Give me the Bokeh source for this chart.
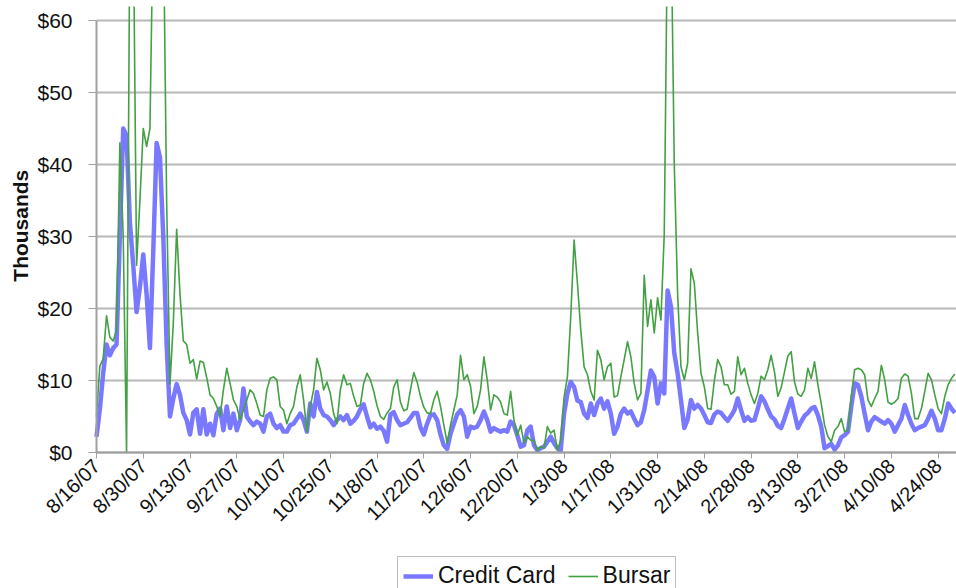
import math
from bokeh.plotting import figure
from bokeh.models import FixedTicker, Range1d, Legend, LegendItem, ColumnDataSource, Label
from bokeh.embed import file_html
from bokeh.resources import INLINE

# Daily values, thousands of dollars, starting 8/16/07
credit_card = [
    2.2, 6, 11, 15, 13.5, 14.5, 15, 30, 45, 44,
    32, 26, 19.5, 23, 27.5, 22, 14.5, 28, 43, 41,
    30, 15, 5, 7.5, 9.5, 8, 5.5, 4.5, 2.5, 5.5,
    6, 2.6, 6, 2.5, 4.0, 2.4, 5.4, 6.1, 3.1, 6.4,
    3.4, 5.4, 3.1, 4.5, 8.9, 5.0, 4.3, 3.8, 4.3, 4.0,
    2.9, 5.0, 5.4, 4.0, 3.4, 3.8, 2.9, 2.9, 3.8, 4.0,
    4.7, 5.4, 4.5, 2.9, 6.8, 5.0, 8.4, 6.1, 5.2, 5.0,
    4.5, 3.8, 4.5, 5.0, 4.5, 5.2, 4.0, 4.4, 5.0, 6.0,
    6.7, 5.0, 3.5, 4.0, 3.3, 3.6, 3.0, 1.5, 5.3, 5.6,
    4.5, 3.8, 4.0, 4.2, 4.8, 5.5, 5.5, 3.5, 2.5, 4.0,
    5.2, 5.3, 4.5, 2.5, 1.0, 0.5, 2.6, 4.0, 5.3, 5.9,
    5.0, 2.2, 3.6, 3.4, 3.6, 4.5, 5.7, 4.5, 2.9, 3.4,
    3.1, 2.9, 3.1, 2.9, 4.3, 3.8, 2.4, 0.8, 1.0, 3.1,
    3.6, 1.0, 0.3, 0.6, 0.8, 1.5, 2.2, 1.3, 0.6, 0.3,
    5.4, 8.2, 9.8, 9.1, 7.2, 7.0, 5.4, 4.8, 6.8, 5.2,
    6.8, 7.5, 6.1, 7.1, 5.4, 2.6, 3.6, 5.4, 6.1, 5.4,
    5.7, 4.7, 3.8, 4.2, 5.9, 8.6, 11.4, 10.5, 6.8, 9.6,
    8.2, 22.5, 20.3, 13.8, 11.0, 7.3, 3.4, 4.6, 7.3, 6.1,
    6.6, 6.1, 5.2, 4.2, 4.1, 5.3, 5.7, 5.5, 4.9, 4.4,
    5.1, 5.9, 7.5, 5.9, 4.4, 4.9, 4.4, 4.5, 6.1, 7.8,
    7.1, 6.0, 5.0, 4.6, 3.7, 3.4, 4.7, 6.1, 7.5, 5.4,
    3.4, 4.3, 5.1, 5.5, 6.1, 6.3, 5.2, 3.6, 0.6, 0.9,
    1.2, 0.4, 1.0, 2.1, 2.4, 2.9, 6.4, 9.6, 9.4, 7.8,
    5.4, 3.1, 4.3, 4.9, 4.6, 4.3, 4.0, 4.5, 4.0, 2.9,
    3.8, 4.7, 6.6, 5.2, 4.0, 3.1, 3.4, 3.6, 3.8, 4.7,
    5.8, 4.7, 3.1, 3.1, 4.7, 6.8, 6.1, 5.5,
]

bursar = [
    5, 12, 13, 19, 16, 15.5, 17, 43, 30, 0,
    75, 75, 26, 35, 45, 42.5, 45, 75, 75, 75,
    75, 35, 9.5, 18, 31, 22, 15.5, 15, 12.4, 12.9,
    10.2, 12.7, 12.5, 10.4, 8, 7.5, 6.4, 5.0, 8.7, 11.7,
    9.6, 7.3, 6.4, 4.5, 5.9, 7.3, 8.7, 8.2, 6.8, 5.2,
    5.0, 8.7, 10.3, 10.5, 10.1, 6.4, 5.9, 4.0, 5.4, 6.4,
    9.1, 10.8, 7.3, 2.9, 6.4, 8.7, 13.1, 11.5, 8.7, 9.8,
    8.2, 5.4, 4.0, 8.7, 10.8, 9.4, 9.6, 7.8, 6.4, 6.6,
    9.6, 11.0, 10.1, 8.5, 6.5, 5.0, 4.6, 5.5, 6.1, 9.1,
    10.1, 7.0, 5.8, 6.0, 8.7, 11.1, 9.8, 7.8, 6.3, 5.5,
    5.4, 7.3, 8.5, 6.4, 3.8, 1.3, 3.8, 5.9, 8.0, 13.5,
    10.1, 10.8, 9.2, 5.4, 6.4, 8.7, 13.3, 10.1, 5.9, 8.0,
    7.7, 7.0, 5.4, 5.2, 8.5, 4.5, 2.4, 3.8, 1.3, 2.2,
    1.7, 1.7, 0.3, 0.8, 0.6, 3.6, 2.7, 3.1, 0.3, 1.7,
    7.7, 10.5, 18.9, 29.5, 23.5, 17, 11.9, 10.8, 8.5, 7.3,
    14.2, 12.9, 10.1, 11.9, 12.4, 7.7, 7.9, 10.5, 12.9, 15.4,
    13.3, 9.6, 7.3, 8.2, 24.6, 17.5, 21.2, 16.6, 21.5, 18.4,
    30.4, 75, 75, 40, 22, 11.9, 10.1, 12.4, 25.5, 23.5,
    16.6, 11.0, 9.1, 6.1, 6.0, 10.0, 12.9, 11.9, 9.4, 9.4,
    8.1, 8.5, 13.3, 10.8, 11.7, 9.6, 8.0, 6.8, 8.2, 10.6,
    10.1, 11.5, 13.5, 11.2, 7.8, 9.0, 11.2, 13.4, 14.0, 9.8,
    8.1, 7.8, 8.7, 11.7, 10.3, 12.6, 9.4, 6.8, 3.8, 2.2,
    1.5, 3.1, 3.6, 4.7, 2.9, 3.1, 7.8, 11.5, 11.7, 11.5,
    10.8, 7.3, 6.4, 7.5, 8.5, 12.1, 10.1, 7.0, 6.7, 7.0,
    7.5, 10.3, 10.9, 10.6, 8.2, 4.7, 4.7, 6.1, 8.5, 11.0,
    10.1, 8.0, 6.1, 5.4, 7.8, 9.4, 10.3, 10.9,
]

tick_labels = ["8/16/07", "8/30/07", "9/13/07", "9/27/07", "10/11/07", "10/25/07",
               "11/8/07", "11/22/07", "12/6/07", "12/20/07", "1/3/08", "1/17/08",
               "1/31/08", "2/14/08", "2/28/08", "3/13/08", "3/27/08", "4/10/08", "4/24/08"]
tick_days = [14 * i for i in range(len(tick_labels))]
y_ticks = [0, 10, 20, 30, 40, 50, 60]

n = min(len(credit_card), len(bursar))
days = list(range(n))
src = ColumnDataSource(dict(day=days, cc=credit_card[:n], bu=bursar[:n]))

FONT = "Liberation Sans"

# Plot area: 860 x 432 px for days 0..257.5 and $0..$60.  The frame is
# extended 96 px left, 14 px up and 136 px down so tick labels, axis
# title and legend sit inside it; axes are pinned at day 0 / $0.
X_END = 257.5
PX_PER_DAY = 860 / X_END
PX_PER_UNIT = 432 / 60.0
x_start = -96 / PX_PER_DAY
y_start = -136 / PX_PER_UNIT
y_end = 60 + 14 / PX_PER_UNIT

p = figure(width=956, height=588, frame_width=956, frame_height=582,
           output_backend="svg", toolbar_location=None,
           x_range=Range1d(x_start, X_END), y_range=Range1d(y_start, y_end),
           min_border_left=0, min_border_right=0, min_border_top=6, min_border_bottom=0)
p.outline_line_color = None
p.background_fill_color = "white"
p.border_fill_color = "white"

p.xgrid.grid_line_color = None
grid_ok = True
try:
    p.ygrid.cross_bounds = (0, X_END)
except Exception:
    grid_ok = False
if grid_ok:
    p.ygrid.grid_line_color = "#b8b8b8"
    p.ygrid.grid_line_width = 2
else:
    p.ygrid.grid_line_color = None
    p.segment(x0=[0] * len(y_ticks), x1=[X_END] * len(y_ticks), y0=y_ticks, y1=y_ticks,
              line_color="#b8b8b8", line_width=2)

# y axis, pinned at day 0
p.yaxis.fixed_location = 0
p.yaxis.ticker = FixedTicker(ticks=y_ticks)
p.yaxis.bounds = (0, 60)
p.yaxis.major_label_overrides = {v: "$%d" % v for v in y_ticks}
p.yaxis.major_label_text_font = FONT
p.yaxis.major_label_text_font_size = "21px"
p.yaxis.major_label_text_color = "#111111"
p.yaxis.major_label_standoff = 16
p.yaxis.major_tick_out = 8
p.yaxis.major_tick_in = 0
p.yaxis.minor_tick_line_color = None
p.yaxis.axis_line_color = "#a0a0a0"
p.yaxis.axis_line_width = 2
p.yaxis.major_tick_line_color = "#a0a0a0"

# y axis title
p.add_layout(Label(x=-22.8, y=31.5, text="Thousands", angle=math.pi / 2,
                   text_align="center", text_baseline="middle",
                   text_font=FONT, text_font_style="bold", text_font_size="21px",
                   text_color="#111111"))

# x axis, pinned at $0
p.xaxis.fixed_location = 0
p.xaxis.bounds = (0, X_END)
p.xaxis.ticker = FixedTicker(ticks=tick_days)
p.xaxis.major_label_overrides = dict(zip(tick_days, tick_labels))
p.xaxis.major_label_orientation = math.pi / 4
p.xaxis.major_label_text_font = FONT
p.xaxis.major_label_text_font_size = "20px"
p.xaxis.major_label_text_color = "#111111"
p.xaxis.major_label_standoff = 4
p.xaxis.major_tick_out = 6
p.xaxis.major_tick_in = 0
p.xaxis.minor_tick_line_color = None
p.xaxis.axis_line_color = "#a0a0a0"
p.xaxis.axis_line_width = 2
p.xaxis.major_tick_line_color = "#a0a0a0"

r_cc = p.line("day", "cc", source=src, line_color="#7272FF", line_width=4.5,
              line_join="round", line_alpha=0.95)
r_bu = p.line("day", "bu", source=src, line_color="#43A043", line_width=1.6,
              line_join="round")

legend = Legend(items=[LegendItem(label="Credit Card", renderers=[r_cc]),
                       LegendItem(label="Bursar", renderers=[r_bu])],
                orientation="horizontal", location=(397, -7))
legend.label_text_font = FONT
legend.label_text_font_size = "23px"
legend.label_text_color = "#111111"
legend.label_standoff = 5
legend.label_height = 22
legend.glyph_height = 20
legend.glyph_width = 30
legend.spacing = 12
legend.padding = 5
legend.margin = 0
legend.border_line_color = "#808080"
legend.border_line_width = 1.5
legend.background_fill_color = "white"
p.add_layout(legend, "center")

open("out.html", "w").write(file_html(p, INLINE))
